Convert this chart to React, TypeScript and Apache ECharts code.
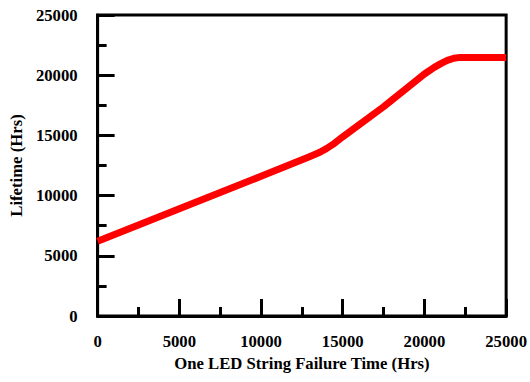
import React, { useEffect, useRef } from "react";
import * as echarts from "echarts";

const failureTime = [0, 5000, 10000, 13000, 13600, 14000, 14400, 15000, 17500, 20000, 20600, 21000, 21400, 21800, 22200, 25000];
const lifetime = [6200, 8900, 11600, 13250, 13600, 13900, 14250, 14880, 17380, 20100, 20650, 20960, 21230, 21410, 21480, 21480];
const xTicks = [0, 5000, 10000, 15000, 20000, 25000];
const yTicks = [0, 5000, 10000, 15000, 20000, 25000];

const FONT = "Liberation Serif";

export default function App() {
  const ref = useRef<HTMLDivElement>(null);
  useEffect(() => {
    if (!ref.current) return;
    const chart = echarts.init(ref.current, undefined, { renderer: "svg" });
    const axisCommon = {
      type: "value" as const,
      min: 0,
      max: 25000,
      interval: 5000,
      splitLine: { show: false },
      axisLine: { show: true, onZero: false, lineStyle: { color: "#000", width: 3 } },
      axisTick: { show: true, inside: true, length: 17, lineStyle: { color: "#000", width: 3 } },
      minorTick: { show: true, splitNumber: 2, length: 9, lineStyle: { color: "#000", width: 3 } },
      nameLocation: "middle" as const,
      nameTextStyle: { fontFamily: FONT, fontWeight: "bold", fontSize: 16.7, color: "#000" },
    };
    chart.setOption({
      animation: false,
      grid: { left: 92, right: 20, top: 15, bottom: 66, show: true, borderColor: "#000", borderWidth: 3, containLabel: false },
      xAxis: {
        ...axisCommon,
        name: "One LED String Failure Time (Hrs)",
        nameGap: 38,
        axisLabel: {
          margin: 17,
          fontFamily: FONT,
          fontWeight: "bold",
          fontSize: 16.7,
          color: "#000",
          formatter: (v: number) => (xTicks.includes(v) ? String(v) : ""),
        },
      },
      yAxis: {
        ...axisCommon,
        name: "Lifetime (Hrs)",
        nameGap: 67,
        axisLabel: {
          margin: 20,
          fontFamily: FONT,
          fontWeight: "bold",
          fontSize: 16.7,
          color: "#000",
          formatter: (v: number) => (yTicks.includes(v) ? String(v) : ""),
        },
      },
      series: [
        {
          type: "line",
          data: failureTime.map((x, i) => [x, lifetime[i]]),
          showSymbol: false,
          symbol: "none",
          smooth: false,
          lineStyle: { color: "#ff0000", width: 7, join: "round" },
        },
      ],
    });
    return () => chart.dispose();
  }, []);
  return <div ref={ref} style={{ position: "absolute", left: 0, top: 0, width: 530, height: 382 }} />;
}
